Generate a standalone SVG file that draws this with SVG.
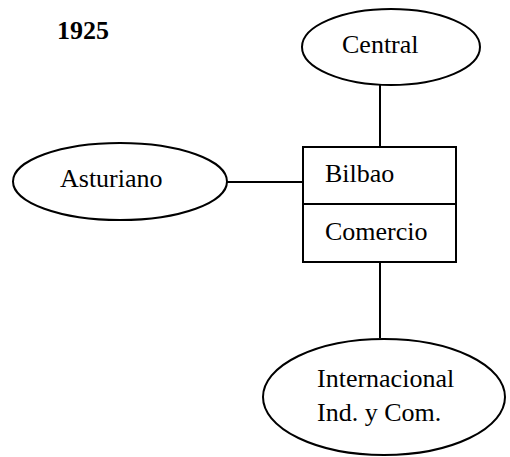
<svg xmlns="http://www.w3.org/2000/svg" width="510" height="457" viewBox="0 0 510 457">
<style>
.s{fill:#fff;stroke:#000;stroke-width:2}
.c{stroke:#000;stroke-width:2;fill:none}
.t{font-family:"Liberation Serif","Times New Roman",serif;font-size:26px;fill:#000}
.b{font-weight:bold}
</style>
<rect width="510" height="457" fill="#fff"/>
<text class="t b" x="57" y="39">1925</text>
<g id="connectors">
<line class="c" x1="380" y1="85" x2="380" y2="147"/>
<line class="c" x1="227" y1="182" x2="303" y2="182"/>
<line class="c" x1="380" y1="262" x2="380" y2="338"/>
</g>
<g id="central">
<ellipse class="s" cx="391" cy="47" rx="89" ry="38"/>
<text class="t" x="342" y="53">Central</text>
</g>
<g id="asturiano">
<ellipse class="s" cx="120" cy="181.5" rx="107" ry="38.5"/>
<text class="t" x="60" y="187">Asturiano</text>
</g>
<g id="bilbao-comercio">
<rect class="s" x="303" y="147" width="153" height="115"/>
<line class="c" x1="303" y1="204" x2="456" y2="204"/>
<text class="t" x="325" y="182">Bilbao</text>
<text class="t" x="325" y="240">Comercio</text>
</g>
<g id="internacional">
<ellipse class="s" cx="384" cy="397" rx="121" ry="58"/>
<text class="t" x="317" y="387">Internacional</text>
<text class="t" x="317" y="421">Ind. y Com.</text>
</g>
</svg>
